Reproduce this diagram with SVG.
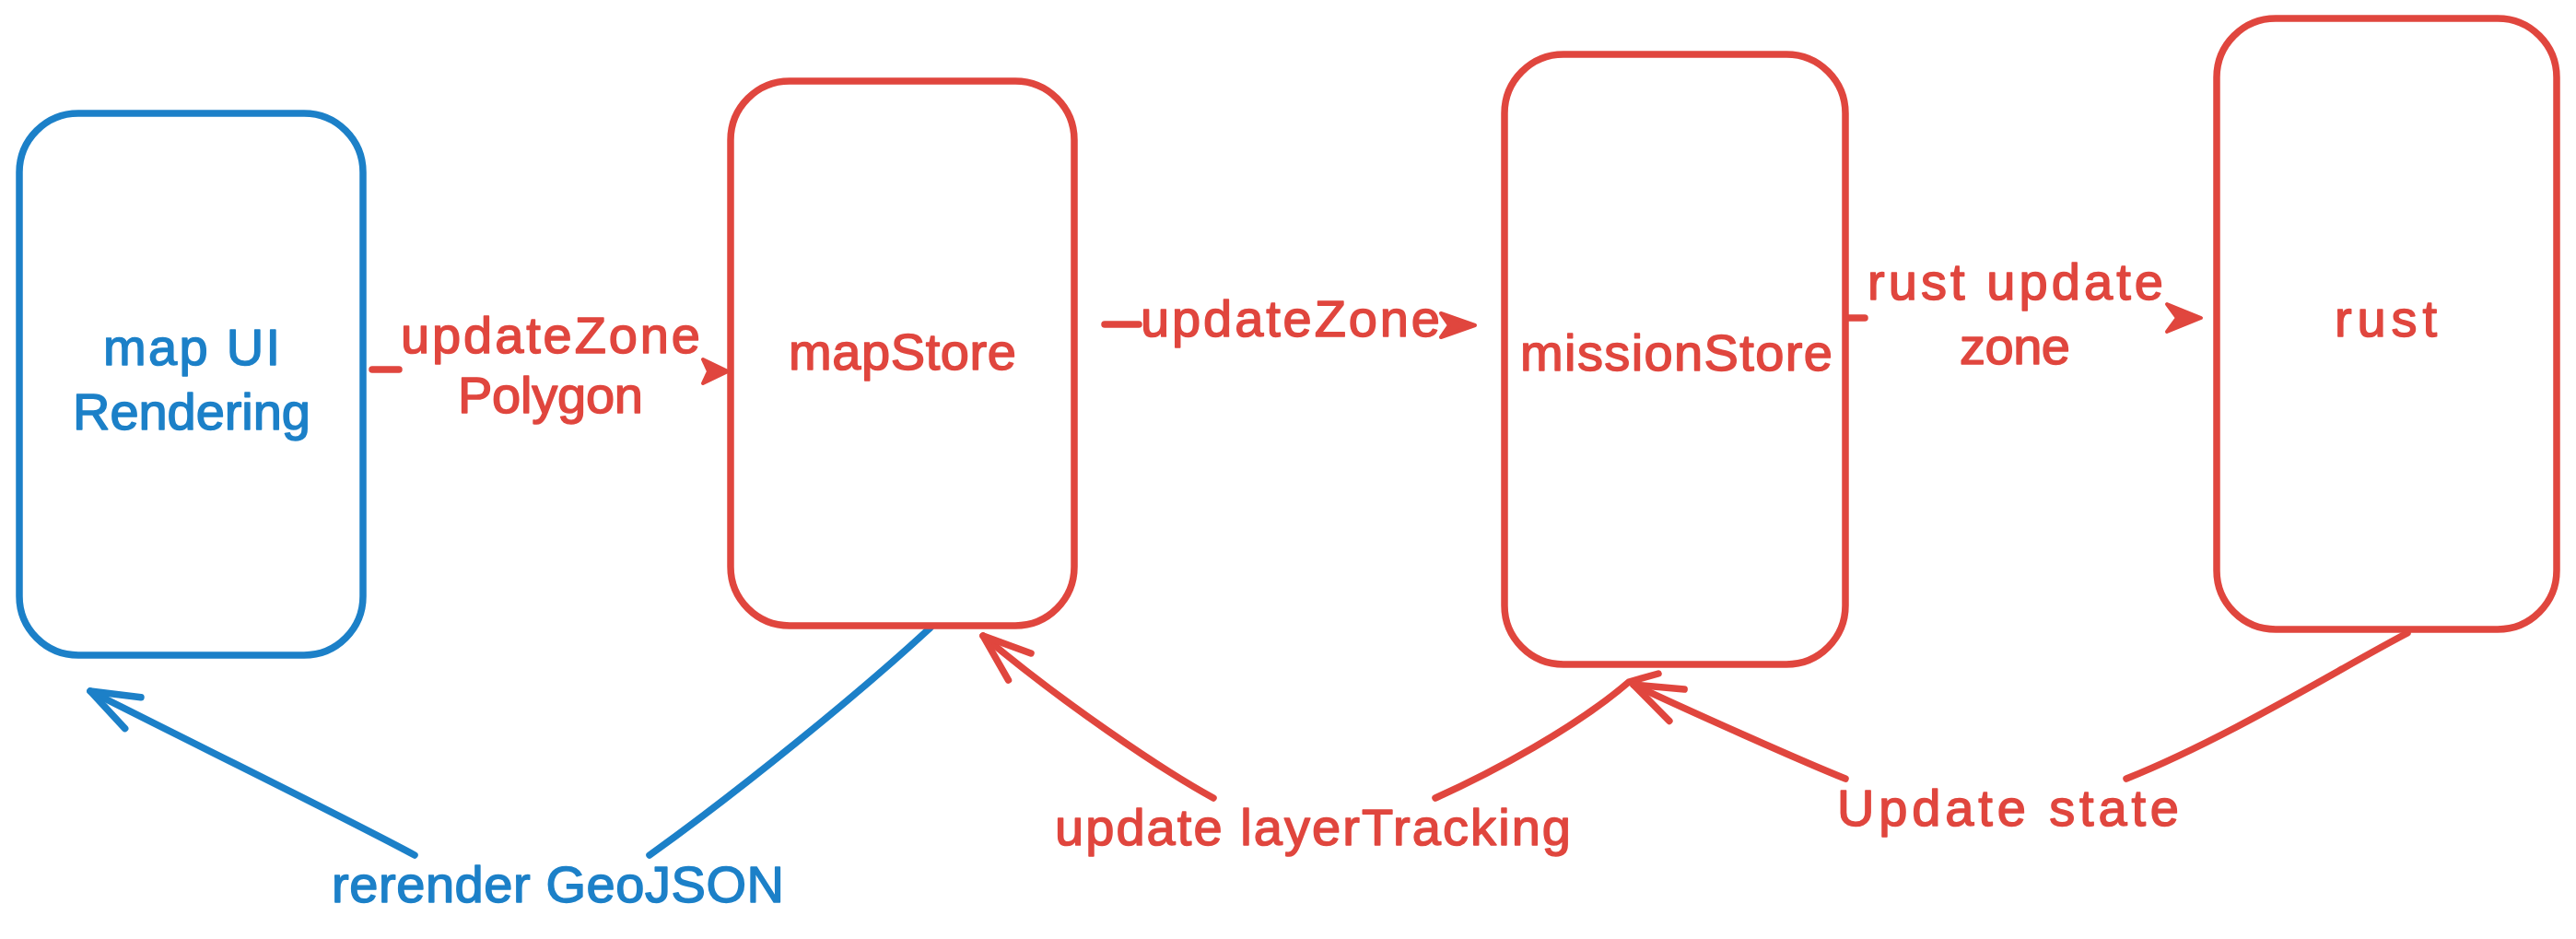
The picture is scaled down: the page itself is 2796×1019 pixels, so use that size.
<svg xmlns="http://www.w3.org/2000/svg" width="2796" height="1019" viewBox="0 0 2796 1019">
  <style>
    .box { fill: #ffffff; stroke-width: 7.5; }
    .red { stroke: #e0463e; }
    .blue { stroke: #1c80c8; }
    .conn { fill: none; stroke-width: 7.5; stroke-linecap: round; stroke-linejoin: round; }
    .head { stroke-width: 4; stroke-linejoin: round; }
    .hr { fill: #e0463e; stroke: #e0463e; }
    .lbl { font-family: "Liberation Sans", Arial, sans-serif; font-size: 56px; text-anchor: middle; stroke-width: 1.5; stroke-linejoin: round; }
    .tr { fill: #e0463e; stroke: #e0463e; }
    .tb { fill: #1c80c8; stroke: #1c80c8; }
  </style>
  <defs>
    <marker id="openRed" markerUnits="userSpaceOnUse" viewBox="-70 -35 80 70" markerWidth="80" markerHeight="70" refX="0" refY="0" orient="auto" overflow="visible">
      <path d="M-52,-19 L0,0 L-52,19" fill="none" stroke="#e0463e" stroke-width="7.5" stroke-linecap="round" stroke-linejoin="round"/>
    </marker>
    <marker id="openBlue" markerUnits="userSpaceOnUse" viewBox="-70 -35 80 70" markerWidth="80" markerHeight="70" refX="0" refY="0" orient="auto" overflow="visible">
      <path d="M-52,-19 L0,0 L-52,19" fill="none" stroke="#1c80c8" stroke-width="7.5" stroke-linecap="round" stroke-linejoin="round"/>
    </marker>
  </defs>
  <rect width="2796" height="1019" fill="#ffffff"/>

  <g id="connectors">
    <!-- map UI -> mapStore -->
    <g id="c-updateZonePolygon">
      <path class="conn red" d="M404,401 H433"/>
      <polygon class="head hr" points="763,390 790,403 763,416 769,403"/>
    </g>
    <!-- mapStore -> missionStore -->
    <g id="c-updateZone">
      <path class="conn red" d="M1199,352 H1236"/>
      <polygon class="head hr" points="1564,340 1601,353 1564,366 1573,353"/>
    </g>
    <!-- missionStore -> rust -->
    <g id="c-rustUpdateZone">
      <path class="conn red" d="M2006,345 H2024"/>
      <polygon class="head hr" points="2352,330 2389,345 2352,360 2363,345"/>
    </g>
    <!-- mapStore -> map UI -->
    <g id="c-rerender">
      <path class="conn blue" d="M1010,681 C930,755 800,860 705,928"/>
      <path class="conn blue" marker-end="url(#openBlue)" d="M450,928 C380,890 190,797 98,750"/>
    </g>
    <!-- missionStore -> mapStore -->
    <g id="c-layerTracking">
      <path class="conn red" d="M1558,866 C1620,838 1710,790 1768,740 L1800,731"/>
      <path class="conn red" marker-end="url(#openRed)" d="M1317,866 C1260,835 1150,760 1067,690"/>
    </g>
    <!-- rust -> missionStore -->
    <g id="c-updateState">
      <path class="conn red" d="M2613,687 C2540,725 2420,800 2308,845"/>
      <path class="conn red" marker-end="url(#openRed)" d="M2003,845 C1960,828 1830,770 1773,743"/>
    </g>
  </g>

  <g id="labels">
    <text class="lbl tr" x="597.5" y="383" textLength="325">updateZone</text>
    <text class="lbl tr" x="597.5" y="448" textLength="201">Polygon</text>
    <text class="lbl tr" x="1400.5" y="365" textLength="325">updateZone</text>
    <text class="lbl tr" x="2187.5" y="325" textLength="321">rust update</text>
    <text class="lbl tr" x="2187" y="395" textLength="120">zone</text>
    <text class="lbl tb" x="605.5" y="979" textLength="491">rerender GeoJSON</text>
    <text class="lbl tr" x="1425" y="917" textLength="560">update layerTracking</text>
    <text class="lbl tr" x="2179.5" y="896" textLength="371">Update state</text>
  </g>

  <g id="node-mapUI">
    <rect class="box blue" x="21" y="123" width="373" height="588" rx="64" ry="64"/>
    <text class="lbl tb" x="208" y="396" textLength="192">map UI</text>
    <text class="lbl tb" x="208" y="466" textLength="258">Rendering</text>
  </g>
  <g id="node-mapStore">
    <rect class="box red" x="793" y="88" width="373" height="591" rx="64" ry="64"/>
    <text class="lbl tr" x="979.5" y="401" textLength="247">mapStore</text>
  </g>
  <g id="node-missionStore">
    <rect class="box red" x="1633" y="59" width="370" height="662" rx="64" ry="64"/>
    <text class="lbl tr" x="1819.5" y="402" textLength="339">missionStore</text>
  </g>
  <g id="node-rust">
    <rect class="box red" x="2406" y="20" width="369" height="663" rx="64" ry="64"/>
    <text class="lbl tr" x="2589.5" y="365" textLength="111">rust</text>
  </g>
</svg>
